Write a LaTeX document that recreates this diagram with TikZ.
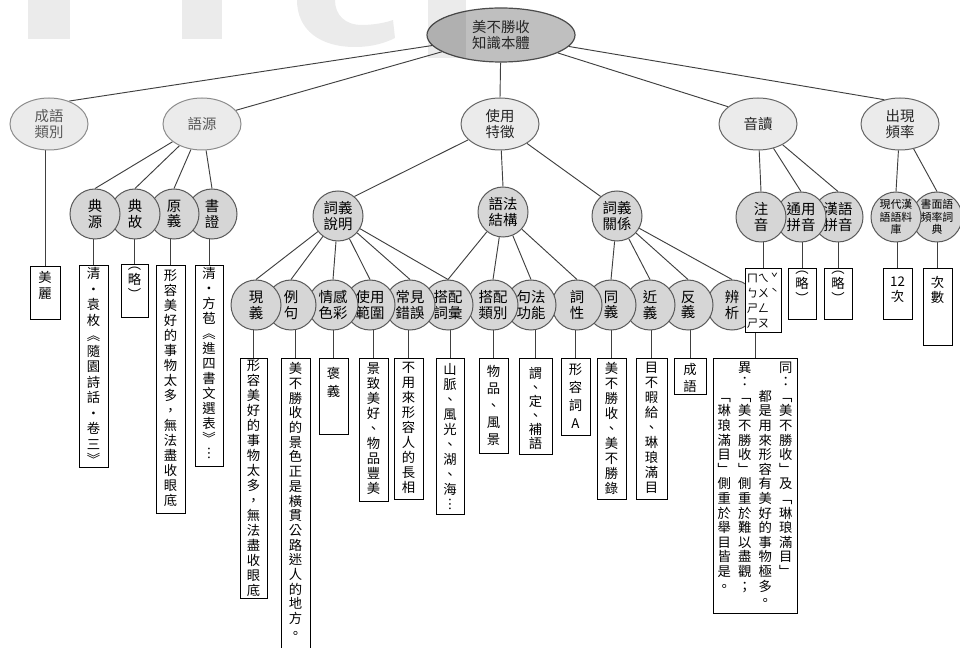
\documentclass[tikz,border=0pt]{standalone}
\usepackage{fontspec}
\setmainfont{Noto Sans CJK TC}
\usetikzlibrary{shapes.geometric}
\pgfdeclarelayer{bg}
\pgfsetlayers{bg,main}
\newdimen\px \px=0.75pt
\newcommand\mainsz{\fontsize{10pt}{11.25pt}\selectfont}
\newcommand\nodesz{\fontsize{10.8pt}{11.8pt}\selectfont}
\newcommand\smallsz{\fontsize{8.2pt}{9.4pt}\selectfont}
\newcommand\zysz{\fontsize{8.5pt}{11.25pt}\selectfont}
\ExplSyntaxOn
\cs_new_protected:Npn \__mt_item:n #1 { \hbox_to_wd:nn {14\px} { \hss #1 \hss } }
\NewDocumentCommand \vcol { m m } {
  \vtop { \baselineskip = #1\px \lineskiplimit = -100pt \lineskip = 0pt
    \tl_map_function:nN { #2 } \__mt_item:n } }
\ExplSyntaxOff
% name, cx, top, bottom, width, pitch, topskip, chars
\newcommand\leaf[8]{\node[leafbox] (#1) at (#2,#3) {\vbox to \dimexpr #4\px-#3\px\relax{\vskip #7\px\hbox to #5\px{\hss\vcol{#6}{#8}\hss}\vss}};}
\newcommand\zy[1]{\hbox to 11\px{\hss#1\hss}}
\tikzset{
  conn/.style={draw=black!75, line width=0.7pt},
  rootnode/.style={ellipse, draw=black!70, fill=black!25, line width=0.9pt, minimum width=111pt, minimum height=40.5pt, inner sep=0pt, align=center, font=\nodesz, text=black!85},
  topic/.style={ellipse, draw=black!60, fill=black!8, line width=0.75pt, minimum width=58.5pt, minimum height=39pt, inner sep=0pt, align=center, font=\nodesz, text=black!85},
  fadedtopic/.style={topic, draw=black!45, text=black!65},
  sub/.style={circle, draw=black!65, fill=black!16, line width=0.75pt, minimum size=37.5pt, inner sep=0pt, align=center, font=\nodesz},
  subsmall/.style={sub, font=\smallsz},
  leafbox/.style={draw=black, fill=white, line width=0.75pt, inner sep=0pt, anchor=north, font=\mainsz},
  wmark/.style={fill=black, opacity=0.08}
}
\begin{document}
\begin{tikzpicture}[x=0.75pt, y=-0.75pt]
\useasboundingbox (0,0) rectangle (960,648);
\begin{pgfonlayer}{bg}
\fill[white] (0,0) rectangle (960,648);
\end{pgfonlayer}

% root and level 1
\node[rootnode] (root) at (501,35) {美不勝收\\知識本體};
\node[fadedtopic] (lei) at (49,124) {成語\\類別};
\node[fadedtopic] (yuan) at (202,124) {語源};
\node[topic] (tezheng) at (500,124) {使用\\特徵};
\node[topic] (yindu) at (758,124) {音讀};
\node[topic] (pinlv) at (900,124) {出現\\頻率};

% level 2 (right ones first so left ones lie on top)
\node[sub] (shuzheng) at (212,214) {書\\證};
\node[sub] (yuanyi) at (174,214) {原\\義};
\node[sub] (diangu) at (135,214) {典\\故};
\node[sub] (dianyuan) at (95,214) {典\\源};

\node[sub] (cygx) at (617,216) {詞義\\關係};
\node[sub] (yfjg) at (503,212) {語法\\結構};
\node[sub] (cysm) at (338,216) {詞義\\說明};

\node[sub] (hypy) at (838,217) {漢語\\拼音};
\node[sub] (typy) at (801,217) {通用\\拼音};
\node[sub] (zhuyin) at (761,217) {注\\音};
\node[subsmall] (smyp) at (937,217) {書面語\\頻率詞\\典};
\node[subsmall] (xdhy) at (896,217) {現代漢\\語語料\\庫};

% level 3
\node[sub] (bianxi) at (732,305) {辨\\析};
\node[sub] (fanyi) at (688,305) {反\\義};
\node[sub] (jinyi) at (650,305) {近\\義};
\node[sub] (tongyi) at (611,305) {同\\義};
\node[sub] (cixing) at (577,305) {詞\\性};
\node[sub] (jfgn) at (531,305) {句法\\功能};
\node[sub] (dplb) at (493,305) {搭配\\類別};
\node[sub] (dpch) at (448,305) {搭配\\詞彙};
\node[sub] (cjcw) at (410,305) {常見\\錯誤};
\node[sub] (syfw) at (370,305) {使用\\範圍};
\node[sub] (qgsc) at (333,305) {情感\\色彩};
\node[sub] (liju) at (291,305) {例\\句};
\node[sub] (xianyi) at (256,305) {現\\義};

% leaf boxes
\leaf{b-lei}{45}{266}{319}{30}{16}{5}{美麗}
\leaf{b-dy}{93.5}{265}{467}{29}{15.5}{2}{清・袁枚︽隨園詩話・卷三︾}
\leaf{b-dg}{134.5}{264}{317}{27}{15}{3}{︵略︶}
\leaf{b-yy}{170.5}{265}{513}{29}{15}{4}{形容美好的事物太多，無法盡收眼底}
\leaf{b-sz}{209}{265}{466}{28}{15}{2}{清・方苞︽進四書文選表︾︙}

\leaf{b-xy}{253.5}{358}{598}{27}{15}{1}{形容美好的事物太多，無法盡收眼底}
\leaf{b-lj}{295.5}{358}{652}{29}{14.7}{4}{美不勝收的景色正是橫貫公路迷人的地方。}
\leaf{b-qg}{333.5}{358}{434}{29}{18}{9}{褒義}
\leaf{b-sy}{373.5}{358}{501}{29}{15}{4}{景致美好、物品豐美}
\leaf{b-cj}{408.5}{358}{499}{29}{15}{4}{不用來形容人的長相}
\leaf{b-dpc}{450}{358}{514}{28}{15}{5}{山脈、風光、湖、海︙}
\leaf{b-dpl}{493.5}{358}{453}{29}{17}{7}{物品、風景}
\leaf{b-jf}{535.5}{358}{454}{33}{14}{9}{謂、定、補語}
\leaf{b-cx}{575.5}{358}{435}{29}{18}{5}{形容詞A}
\leaf{b-ty}{611.5}{358}{499}{29}{15}{4}{美不勝收、美不勝錄}
\leaf{b-jy}{651.5}{358}{499}{31}{15}{4}{目不暇給、琳琅滿目}
\leaf{b-fy}{690}{358}{394}{32}{17}{5}{成語}
\node[leafbox] (b-bx) at (755,358) {\vbox to 255\px{\vskip 3\px\hbox to 84\px{\hss
  \vcol{14.6}{{}{}﹁琳琅滿目﹂側重於舉目皆是。}\hskip6.5\px
  \vcol{14.6}{異：﹁美不勝收﹂側重於難以盡觀；}\hskip6.5\px
  \vcol{14.6}{{}{}都是用來形容有美好的事物極多。}\hskip6.5\px
  \vcol{14.6}{同：﹁美不勝收﹂及﹁琳琅滿目﹂}\hss}\vss}};

\node[leafbox] (b-zy) at (763,268) {\zysz\vbox to 64\px{\vskip 5\px\baselineskip=15\px\lineskiplimit=-100pt
  \hbox to 36\px{\hskip2\px\zy{ㄇ}\zy{ㄟ}\zy{ˇ}\hss}
  \hbox to 36\px{\hskip2\px\zy{ㄅ}\zy{ㄨ}\zy{ˋ}\hss}
  \hbox to 36\px{\hskip2\px\zy{ㄕ}\zy{ㄥ}\hss}
  \hbox to 36\px{\hskip2\px\zy{ㄕ}\zy{ㄡ}\hss}\vss}};
\leaf{b-typ}{802}{268}{319}{28}{15}{3}{︵略︶}
\leaf{b-hyp}{838}{268}{319}{28}{15}{3}{︵略︶}
\leaf{b-xd}{897.5}{268}{319}{29}{15}{8}{{12}次}
\leaf{b-sm}{937.5}{268}{345}{29}{15}{8}{次數}

\begin{pgfonlayer}{bg}
% root to level 1
\draw[conn] (root) -- (lei.49);
\draw[conn] (root) -- (yuan.22);
\draw[conn] (root) -- (tezheng.north);
\draw[conn] (root) -- (yindu.150);
\draw[conn] (root) -- (pinlv.123);
% level 1 to level 2
\foreach \c in {dianyuan,diangu,yuanyi,shuzheng} \draw[conn] (yuan) -- (\c.north);
\draw[conn] (tezheng) -- (cysm.50);
\draw[conn] (tezheng) -- (yfjg.north);
\draw[conn] (tezheng) -- (cygx.130);
\foreach \c in {zhuyin,typy,hypy} \draw[conn] (yindu) -- (\c.north);
\foreach \c in {xdhy,smyp} \draw[conn] (pinlv) -- (\c.north);
% level 2 to level 3
\foreach \c in {xianyi,liju,qgsc,syfw,cjcw,dpch} \draw[conn] (cysm) -- (\c.north);
\foreach \c in {dpch,dplb,jfgn,cixing} \draw[conn] (yfjg) -- (\c.north);
\foreach \c in {tongyi,jinyi,fanyi,bianxi} \draw[conn] (cygx) -- (\c.north);
% nodes to boxes
\foreach \b/\c in {b-lei/lei,b-dy/dianyuan,b-dg/diangu,b-yy/yuanyi,b-sz/shuzheng,
  b-xy/xianyi,b-lj/liju,b-qg/qgsc,b-sy/syfw,b-cj/cjcw,b-dpc/dpch,b-dpl/dplb,b-jf/jfgn,
  b-cx/cixing,b-ty/tongyi,b-jy/jinyi,b-fy/fanyi,b-bx/bianxi,
  b-zy/zhuyin,b-typ/typy,b-hyp/hypy,b-xd/xdhy,b-sm/smyp}
  \draw[conn] (\b.north) -- (\b.north |- \c.center);
\end{pgfonlayer}

% faint watermark
\fill[wmark] (28,0) rectangle (70,39);
\fill[wmark] (182,0) rectangle (222,39);
\fill[wmark] (297,0) .. controls (297,30) and (320,47) .. (355,47) .. controls (372,47) and (385,43) .. (395,38) -- (393,20) .. controls (385,23) and (372,25) .. (362,25) .. controls (345,25) and (335,15) .. (335,0) -- cycle;
\fill[wmark] (428,0) rectangle (466,58);
\end{tikzpicture}
\end{document}
